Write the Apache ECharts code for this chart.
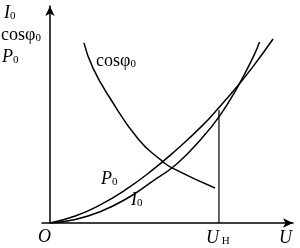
<!DOCTYPE html>
<html>
<head>
<meta charset="utf-8">
<script src="https://cdn.jsdelivr.net/npm/echarts@6/dist/echarts.min.js"></script>
<style>html,body{margin:0;padding:0;background:#fff}#c{width:300px;height:248px}</style>
</head>
<body>
<div id="c"></div>
<script>
// Relative voltage U/U_N and relative quantities
var p0X   = [0, 0.15, 0.30, 0.45, 0.60, 0.75, 0.90, 1.00, 1.10, 1.20, 1.32];
var p0Y   = [0, 0.041, 0.108, 0.197, 0.306, 0.432, 0.571, 0.679, 0.794, 0.918, 1.082];
var i0X   = [0, 0.15, 0.30, 0.45, 0.60, 0.75, 0.90, 1.00, 1.10, 1.20, 1.24];
var i0Y   = [0, 0.021, 0.068, 0.141, 0.241, 0.347, 0.500, 0.624, 0.782, 0.971, 1.065];
var cosX  = [0.201, 0.254, 0.355, 0.527, 0.663, 0.722, 0.976];
var cosY  = [1.059, 0.912, 0.735, 0.488, 0.365, 0.324, 0.206];
var unX   = [1, 1];
var unY   = [0, 0.665];

function pairs(xs, ys){ return xs.map(function(x,i){ return [x, ys[i]]; }); }

var FF = '"Liberation Serif","Times New Roman",serif';
var rich = {
  i: {fontFamily: FF, fontSize: 18, fontStyle: 'italic', fill: '#000'},
  r: {fontFamily: FF, fontSize: 18, fill: '#000'},
  s: {fontFamily: FF, fontSize: 11, fill: '#000', verticalAlign: 'bottom'}
};
function txt(x, y, t){
  return {type: 'text', x: x, y: y, style: {text: t, rich: rich, font: '18px ' + FF, fill: '#000'}};
}

var chart = echarts.init(document.getElementById('c'), null, {renderer: 'canvas'});
var lineStyle = {color: '#000', width: 1.5};
chart.setOption({
  animation: false,
  grid: {left: 42, right: 7, top: 6, bottom: 25},
  xAxis: {
    type: 'value', min: -0.047, max: 1.438,
    axisLine: {show: true, symbol: ['none', 'arrow'], symbolSize: [7, 10], lineStyle: {color: '#000', width: 1.5}},
    axisTick: {show: false}, axisLabel: {show: false}, splitLine: {show: false}
  },
  yAxis: {
    type: 'value', min: 0, max: 1.276,
    axisLine: {show: true, onZero: true, symbol: ['none', 'arrow'], symbolSize: [7, 10], lineStyle: {color: '#000', width: 1.5}},
    axisTick: {show: false}, axisLabel: {show: false}, splitLine: {show: false}
  },
  series: [
    {type: 'line', data: pairs(p0X, p0Y), smooth: true, symbol: 'none', lineStyle: lineStyle},
    {type: 'line', data: pairs(i0X, i0Y), smooth: true, symbol: 'none', lineStyle: lineStyle},
    {type: 'line', data: pairs(cosX, cosY), smooth: true, symbol: 'none', lineStyle: lineStyle},
    {type: 'line', data: pairs(unX, unY), symbol: 'none', lineStyle: {color: '#000', width: 1.2}}
  ],
  graphic: [
    txt(4, 4, '{i|I}{s|0}'),
    txt(1, 26, '{r|cosφ}{s|0}'),
    txt(2, 48, '{i|P}{s|0}'),
    txt(96, 52, '{r|cosφ}{s|0}'),
    txt(101, 170, '{i|P}{s|0}'),
    txt(131, 191, '{i|I}{s|0}'),
    txt(38, 228, '{i|O}'),
    txt(206, 229, '{i|U}{s| Н}'),
    txt(279, 229, '{i|U}')
  ]
});
</script>
</body>
</html>
